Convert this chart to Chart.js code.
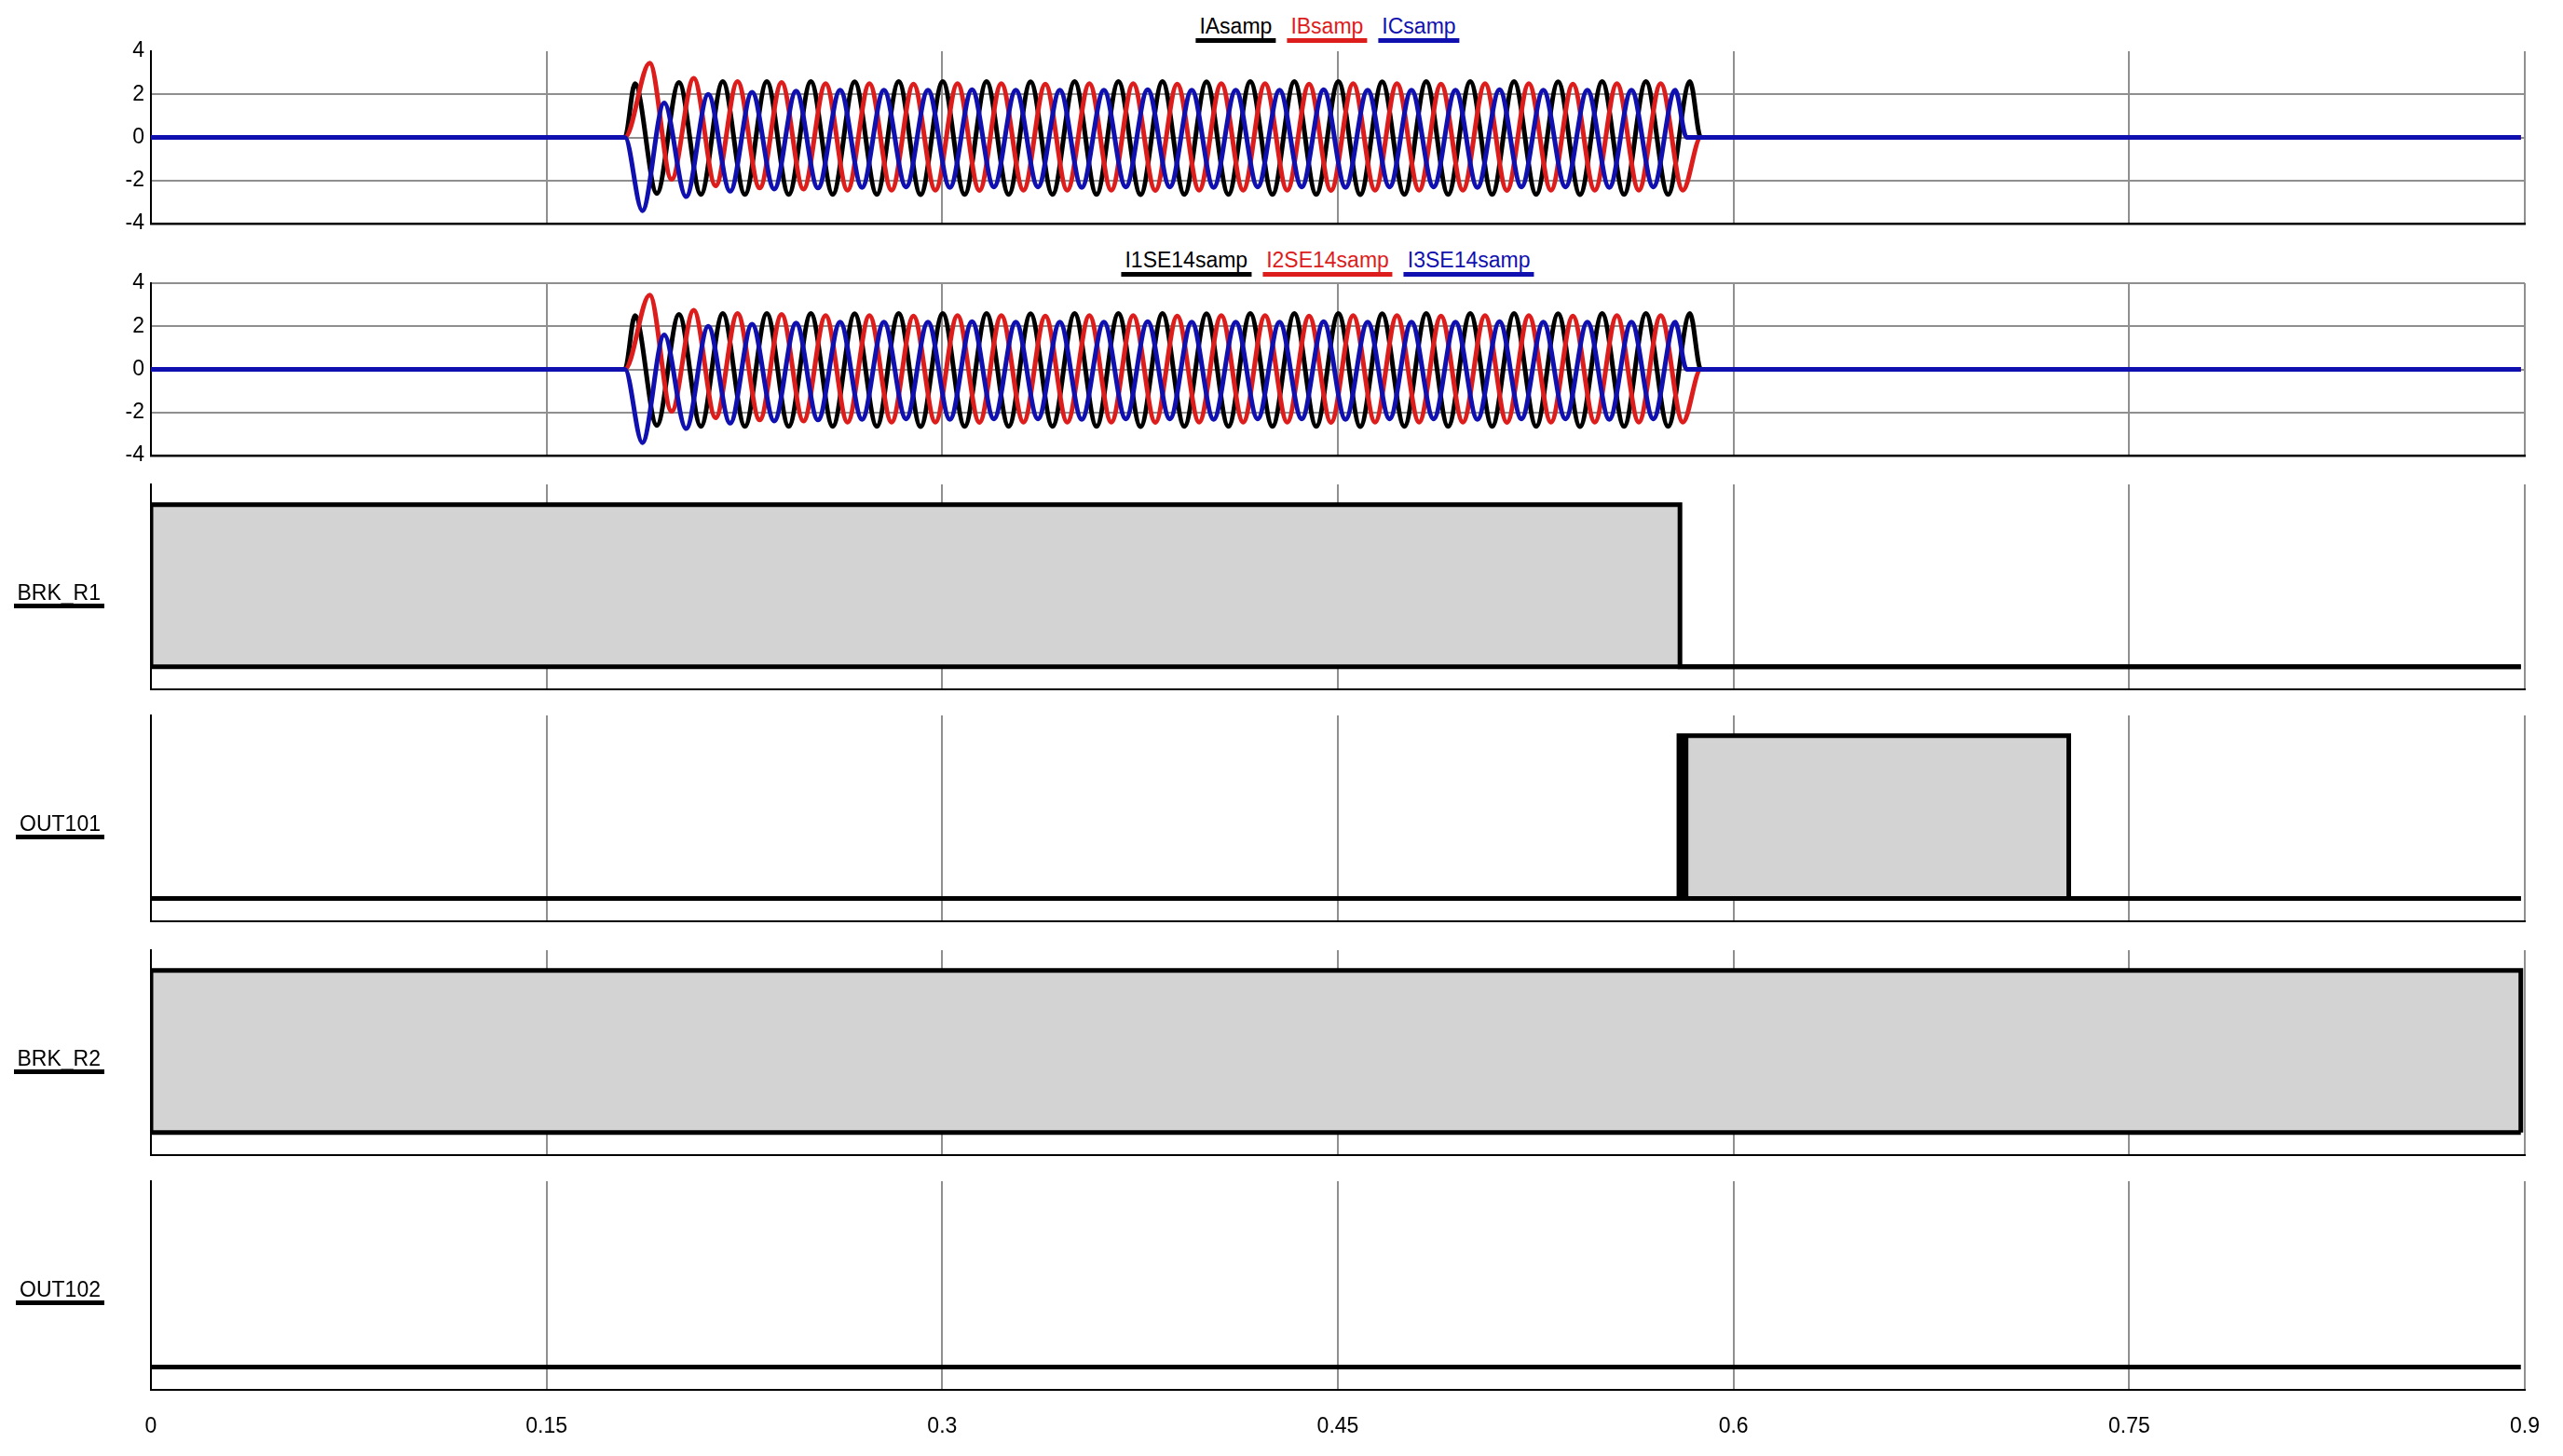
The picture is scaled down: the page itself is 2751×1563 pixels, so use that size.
<!DOCTYPE html>
<html>
<head>
<meta charset="utf-8">
<script src="https://cdn.jsdelivr.net/npm/chart.js@4.4.1/dist/chart.umd.min.js"></script>
<style>
  html, body { margin:0; padding:0; background:#fff; }
  body { width:2751px; height:1563px; position:relative; overflow:hidden; font-family:"Liberation Sans", Arial, sans-serif; }
  .legend { position:absolute; left:1425px; transform:translateX(-50%); white-space:nowrap; display:flex; gap:12px; }
  .legend span { display:inline-block; font-size:23px; line-height:23px; padding:0 4px 1px; border-bottom:5px solid #000; }
  .side { position:absolute; left:0; width:112px; text-align:right; }
  .side span { display:inline-block; font-size:23px; line-height:22px; padding:0 4px 1px; border-bottom:5px solid #000; color:#000; }
</style>
</head>
<body>
<div id="leg1" class="legend" style="top:17px"></div>
<div id="leg2" class="legend" style="top:268px"></div>
<script>
// ---------------- data ----------------
const xTickValues = [0, 0.15, 0.3, 0.45, 0.6, 0.75, 0.9];
const xTickLabels = ['0', '0.15', '0.3', '0.45', '0.6', '0.75', '0.9'];
const yTickValues = [-4, -2, 0, 2, 4];
const yTickLabels = ['-4', '-2', '0', '2', '4'];

const seriesTop = ['IAsamp', 'IBsamp', 'ICsamp'];
const seriesBottom = ['I1SE14samp', 'I2SE14samp', 'I3SE14samp'];
const digitalNames = ['BRK_R1', 'OUT101', 'BRK_R2', 'OUT102'];

// Phase A (black): time of each turning point and its value
const tA = [0, 0.1797,
  0.1835, 0.1918, 0.2002, 0.2085, 0.2168, 0.2252, 0.2335, 0.2418, 0.2502, 0.2585,
  0.2668, 0.2752, 0.2835, 0.2918, 0.3002, 0.3085, 0.3168, 0.3252, 0.3335, 0.3418,
  0.3502, 0.3585, 0.3668, 0.3752, 0.3835, 0.3918, 0.4002, 0.4085, 0.4168, 0.4252,
  0.4335, 0.4418, 0.4502, 0.4585, 0.4668, 0.4752, 0.4835, 0.4918, 0.5002, 0.5085,
  0.5168, 0.5252, 0.5335, 0.5418, 0.5502, 0.5585, 0.5668, 0.5752, 0.5835,
  0.5876, 0.8985];
const vA = [0, 0,
  2.50, -2.60, 2.55, -2.65, 2.60, -2.65, 2.60, -2.65, 2.60, -2.65,
  2.58, -2.65, 2.60, -2.66, 2.60, -2.65, 2.60, -2.65, 2.58, -2.65,
  2.60, -2.65, 2.60, -2.66, 2.60, -2.65, 2.58, -2.65, 2.60, -2.65,
  2.60, -2.65, 2.60, -2.66, 2.58, -2.65, 2.60, -2.65, 2.60, -2.65,
  2.60, -2.65, 2.58, -2.66, 2.60, -2.65, 2.60, -2.65, 2.60,
  0, 0];

// Phase B (red)
const tB = [0, 0.1797,
  0.1891, 0.1974, 0.2058, 0.2141, 0.2224, 0.2308, 0.2391, 0.2474, 0.2558, 0.2641,
  0.2724, 0.2808, 0.2891, 0.2974, 0.3058, 0.3141, 0.3224, 0.3308, 0.3391, 0.3474,
  0.3558, 0.3641, 0.3724, 0.3808, 0.3891, 0.3974, 0.4058, 0.4141, 0.4224, 0.4308,
  0.4391, 0.4474, 0.4558, 0.4641, 0.4724, 0.4808, 0.4891, 0.4974, 0.5058, 0.5141,
  0.5224, 0.5308, 0.5391, 0.5474, 0.5558, 0.5641, 0.5724, 0.5808,
  0.5876, 0.8985];
const vB = [0, 0,
  3.45, -1.95, 2.75, -2.25, 2.60, -2.35, 2.55, -2.40, 2.50, -2.45,
  2.50, -2.45, 2.48, -2.45, 2.50, -2.46, 2.50, -2.45, 2.48, -2.45,
  2.50, -2.45, 2.50, -2.46, 2.48, -2.45, 2.50, -2.45, 2.50, -2.45,
  2.48, -2.46, 2.50, -2.45, 2.50, -2.45, 2.48, -2.45, 2.50, -2.46,
  2.50, -2.45, 2.48, -2.45, 2.50, -2.45, 2.50, -2.45,
  0, 0];

// Phase C (blue)
const tC = [0, 0.1797,
  0.1863, 0.1946, 0.2029, 0.2113, 0.2196, 0.2279, 0.2363, 0.2446, 0.2529, 0.2613,
  0.2696, 0.2779, 0.2863, 0.2946, 0.3029, 0.3113, 0.3196, 0.3279, 0.3363, 0.3446,
  0.3529, 0.3613, 0.3696, 0.3779, 0.3863, 0.3946, 0.4029, 0.4113, 0.4196, 0.4279,
  0.4363, 0.4446, 0.4529, 0.4613, 0.4696, 0.4779, 0.4863, 0.4946, 0.5029, 0.5113,
  0.5196, 0.5279, 0.5363, 0.5446, 0.5529, 0.5613, 0.5696, 0.5779,
  0.5822, 0.8985];
const vC = [0, 0,
  -3.40, 1.60, -2.75, 2.00, -2.50, 2.10, -2.40, 2.15, -2.35, 2.20,
  -2.32, 2.20, -2.30, 2.20, -2.32, 2.22, -2.30, 2.20, -2.30, 2.20,
  -2.32, 2.20, -2.30, 2.22, -2.30, 2.20, -2.32, 2.20, -2.30, 2.20,
  -2.30, 2.22, -2.32, 2.20, -2.30, 2.20, -2.30, 2.20, -2.32, 2.22,
  -2.30, 2.20, -2.30, 2.20, -2.32, 2.20, -2.30, 2.20,
  0, 0];

// Digital channels (0 / 1)
const brk1T = [0, 0, 0.5797, 0.5797, 0.8985];
const brk1V = [0, 1, 1, 0, 0];
const out101T = [0, 0.5793, 0.5793, 0.5807, 0.5807, 0.5820, 0.5820, 0.7271, 0.7271, 0.8985];
const out101V = [0, 0, 1, 1, 0, 0, 1, 1, 0, 0];
const brk2T = [0, 0, 0.8985, 0.8985];
const brk2V = [0, 1, 1, 0];
const out102T = [0, 0.8985];
const out102V = [0, 0];
const lowT = [0, 0.8985];
const lowV = [0, 0];

// ---------------- styling / layout ----------------
const FONT = '"Liberation Sans", Arial, sans-serif';
const CANVAS_W = 2751;
const PLOT_LEFT = 162;
const PAD_RIGHT = 41;
const GRID = '#8f8f8f';
const COLORS = ['#000000', '#dd1c1c', '#1010b0'];
const FILL = '#d3d3d3';

const pts = (t, v) => t.map((x, i) => ({ x: x, y: v[i] }));

const htmlLegend = {
  id: 'htmlLegend',
  afterUpdate(chart, args, opts) {
    if (!opts || !opts.containerID) return;
    const box = document.getElementById(opts.containerID);
    box.innerHTML = '';
    chart.data.datasets.filter(d => d.inLegend).forEach(d => {
      const s = document.createElement('span');
      s.textContent = d.label;
      s.style.color = d.borderColor;
      s.style.borderBottomColor = d.borderColor;
      box.appendChild(s);
    });
  }
};

function makeCanvas(top, height) {
  const wrap = document.createElement('div');
  wrap.style.cssText = 'position:absolute;left:0;top:' + top + 'px;width:' + CANVAS_W + 'px;height:' + height + 'px;';
  const cv = document.createElement('canvas');
  cv.width = CANVAS_W; cv.height = height;
  cv.style.width = CANVAS_W + 'px'; cv.style.height = height + 'px';
  wrap.appendChild(cv);
  document.body.appendChild(wrap);
  return cv;
}

function xScale(showLabels, onTop, borderW) {
  return {
    type: 'linear', min: 0, max: 0.9, display: true, z: onTop ? 1 : 0,
    afterBuildTicks: s => { s.ticks = xTickValues.map(v => ({ value: v })); },
    ticks: {
      display: showLabels, autoSkip: false, maxRotation: 0, minRotation: 0, padding: 25,
      color: '#000', font: { family: FONT, size: 23 },
      callback: v => xTickLabels[xTickValues.indexOf(v)]
    },
    grid: { display: true, drawTicks: false, lineWidth: 2,
      color: c => (c.tick && c.tick.value === 0) ? 'rgba(0,0,0,0)' : GRID },
    border: { display: true, color: '#000', width: borderW }
  };
}

function analogPanel(top, height, names, legendId, topGrid) {
  const cv = makeCanvas(top, height);
  const data = [[tA, vA], [tB, vB], [tC, vC]];
  const drawOrder = [2, 1, 0];
  return new Chart(cv, {
    type: 'line',
    data: {
      datasets: names.map((n, i) => ({
        label: n, inLegend: true,
        data: pts(data[i][0], data[i][1]),
        borderColor: COLORS[i], borderWidth: 5, pointRadius: 0,
        cubicInterpolationMode: 'monotone', fill: false, order: drawOrder[i]
      }))
    },
    options: {
      responsive: false, animation: false, devicePixelRatio: 1, events: [],
      layout: { padding: { left: 0, right: PAD_RIGHT, top: 21, bottom: 21 } },
      plugins: { legend: { display: false }, tooltip: { enabled: false }, htmlLegend: { containerID: legendId } },
      scales: {
        x: xScale(false, false, 2.5),
        y: {
          min: -4, max: 4,
          afterBuildTicks: s => { s.ticks = yTickValues.map(v => ({ value: v })); },
          afterFit: s => { s.width = PLOT_LEFT; },
          ticks: { color: '#000', font: { family: FONT, size: 23 }, padding: 7,
            callback: v => yTickLabels[yTickValues.indexOf(v)] },
          grid: { drawTicks: false, lineWidth: 2,
            color: c => (c.tick && (c.tick.value === -4 || (c.tick.value === 4 && !topGrid))) ? 'rgba(0,0,0,0)' : GRID },
          border: { color: '#000', width: 2 }
        }
      }
    },
    plugins: [htmlLegend]
  });
}

function digitalPanel(top, height, padBottom, name, t, v, hasBox, showX, labelTop) {
  const cv = makeCanvas(top, height);
  const lbl = document.createElement('div');
  lbl.className = 'side';
  lbl.style.top = labelTop + 'px';
  const sp = document.createElement('span');
  sp.textContent = name;
  lbl.appendChild(sp);
  document.body.appendChild(lbl);
  const datasets = [{
    label: name, data: pts(t, v), borderColor: '#000', borderWidth: 5, pointRadius: 0,
    tension: 0, fill: hasBox ? 'origin' : false, backgroundColor: FILL,
    borderJoinStyle: 'miter', borderCapStyle: 'butt', order: 1
  }];
  if (hasBox) {
    datasets.push({
      label: name + ' low', data: pts(lowT, lowV), borderColor: '#000', borderWidth: 5,
      pointRadius: 0, tension: 0, fill: false, borderCapStyle: 'butt', order: 0
    });
  }
  return new Chart(cv, {
    type: 'line',
    data: { datasets: datasets },
    options: {
      responsive: false, animation: false, devicePixelRatio: 1, events: [],
      layout: { padding: { left: 0, right: PAD_RIGHT, top: 15, bottom: padBottom } },
      plugins: { legend: { display: false }, tooltip: { enabled: false } },
      scales: {
        x: xScale(showX, true, 2),
        y: {
          min: -0.14, max: 1.125,
          afterFit: s => { s.width = PLOT_LEFT; },
          ticks: { display: false },
          grid: { display: false, drawTicks: false },
          border: { color: '#000', width: 2 }
        }
      }
    }
  });
}

analogPanel(34, 227, seriesTop, 'leg1', false);
analogPanel(283, 227, seriesBottom, 'leg2', true);
digitalPanel(505, 250, 15, digitalNames[0], brk1T, brk1V, true, false, 625);
digitalPanel(753, 251, 15, digitalNames[1], out101T, out101V, true, false, 873);
digitalPanel(1005, 250, 15, digitalNames[2], brk2T, brk2V, true, false, 1125);
digitalPanel(1253, 317, 0, digitalNames[3], out102T, out102V, false, true, 1373);
</script>
</body>
</html>
